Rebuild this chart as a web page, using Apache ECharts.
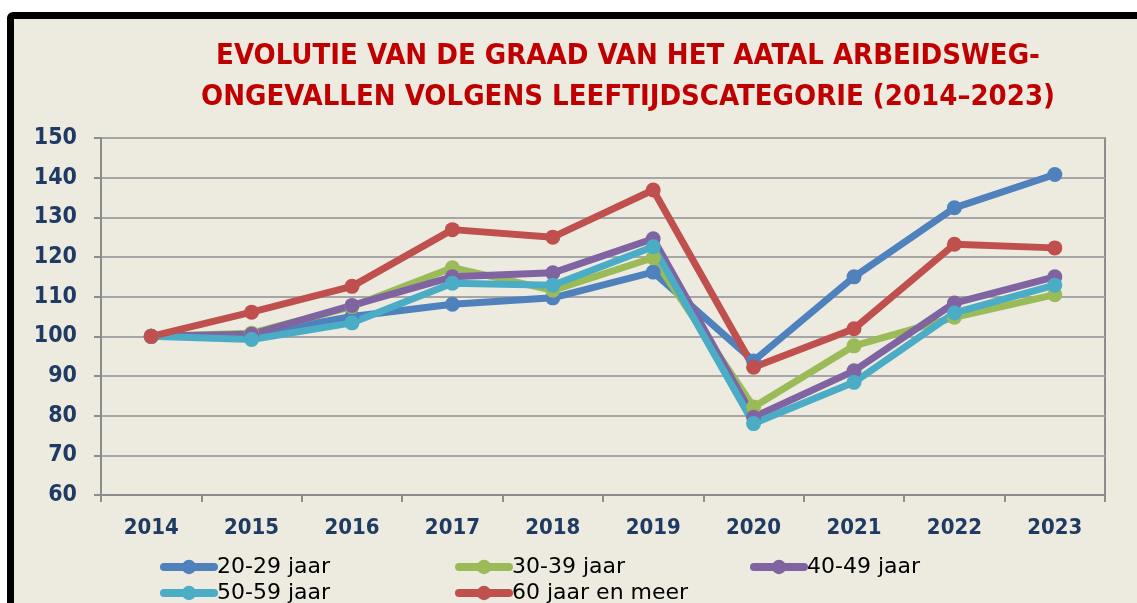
<!DOCTYPE html>
<html>
<head>
<meta charset="utf-8">
<script src="https://cdn.jsdelivr.net/npm/echarts@6/dist/echarts.min.js"></script>
<style>
html,body{margin:0;padding:0;background:#ffffff;width:1137px;height:603px;overflow:hidden;}
#frame{position:absolute;left:7px;top:12px;width:1200px;height:700px;border:7px solid #000;border-radius:6px;background:#EDEAE0;}
#chart{position:absolute;left:0;top:0;width:1137px;height:603px;}
</style>
</head>
<body>
<div id="frame"></div>
<div id="chart"></div>
<script>
const titleText = 'EVOLUTIE VAN DE GRAAD VAN HET AATAL ARBEIDSWEG-\nONGEVALLEN VOLGENS LEEFTIJDSCATEGORIE (2014\u20132023)';
const years = ['2014','2015','2016','2017','2018','2019','2020','2021','2022','2023'];
const seriesNames = ['20-29 jaar','30-39 jaar','40-49 jaar','50-59 jaar','60 jaar en meer'];
const s2029 = [100, 100.4, 105.0, 108.1, 109.7, 116.2, 93.8, 115.0, 132.4, 140.8];
const s3039 = [100, 100.8, 107.5, 117.3, 111.6, 119.8, 82.2, 97.6, 104.8, 110.5];
const s4049 = [100, 100.5, 107.8, 115.0, 116.0, 124.6, 79.6, 91.3, 108.4, 115.0];
const s5059 = [100, 99.2, 103.4, 113.4, 112.9, 122.6, 78.0, 88.4, 105.9, 112.9];
const s60 = [100, 106.1, 112.6, 126.9, 125.0, 136.9, 92.2, 101.9, 123.2, 122.3];
const yTicks = {min: 60, max: 150, interval: 10};

const colors = ['#4F81BD','#9BBB59','#8064A2','#4BACC6','#C0504D'];
const allData = [s2029, s3039, s4049, s5059, s60];
const navy = '#1F3B63';
const fontFam = "'DejaVu Sans Condensed','DejaVu Sans',sans-serif";

const legendPos = [[160,556],[455,556],[750,556],[160,582],[455,582]];

const chart = echarts.init(document.getElementById('chart'), null, {renderer:'canvas'});
chart.setOption({
  backgroundColor: 'transparent',
  animation: false,
  title: {
    text: titleText,
    left: 623, top: 31, textAlign: 'center',
    textStyle: {color:'#C00000', fontSize: 29, fontWeight:'bold', fontFamily: fontFam, lineHeight: 41}
  },
  legend: seriesNames.map((n,i)=>({
    data:[n], left: legendPos[i][0], top: legendPos[i][1],
    itemWidth: 50, itemHeight: 18, padding: 0,
    lineStyle:{width: 8, cap:'round'},
    itemStyle:{borderWidth:0},
    textStyle:{color:'#000', fontSize: 22, fontFamily: "'DejaVu Sans',sans-serif", padding:[0,0,0,-2]}
  })),
  grid: {left: 101, right: 32, top: 138, bottom: 108, show: true, borderColor:'#8C8C8C', borderWidth: 2},
  xAxis: {
    type:'category', data: years, boundaryGap: true,
    axisLine:{lineStyle:{color:'#8C8C8C', width:2}},
    axisTick:{show:true, length:7, interval:0, lineStyle:{color:'#8C8C8C', width:2}},
    axisLabel:{color: navy, fontSize: 22, fontWeight:'bold', fontFamily: fontFam, margin: 22}
  },
  yAxis: {
    type:'value', min: yTicks.min, max: yTicks.max, interval: yTicks.interval,
    axisLine:{show:true, lineStyle:{color:'#8C8C8C', width:2}},
    axisTick:{show:true, length:7, lineStyle:{color:'#8C8C8C', width:2}},
    splitLine:{lineStyle:{color:'#A6A6A6', width:2}},
    axisLabel:{color: navy, fontSize: 23, fontWeight:'bold', fontFamily: fontFam, margin: 24}
  },
  series: seriesNames.map((n,i)=>({
    name:n, type:'line', data: allData[i],
    symbol:'circle', symbolSize: 15,
    lineStyle:{width:7, color: colors[i], cap:'round', join:'round'},
    itemStyle:{color: colors[i]},
    emphasis:{disabled:true}
  }))
});
</script>
</body>
</html>
